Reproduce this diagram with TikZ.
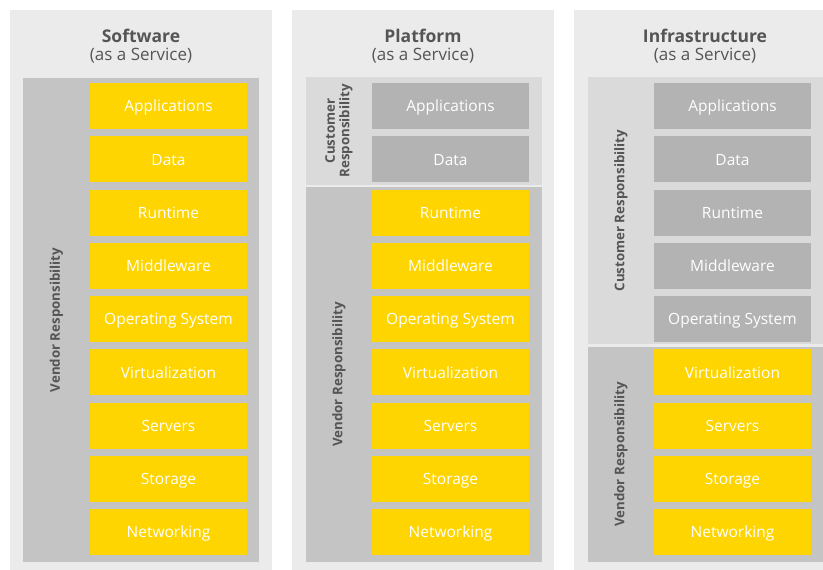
\documentclass[tikz,border=0pt]{standalone}
\usepackage{fontspec}
\setmainfont{Open Sans}
\usetikzlibrary{positioning}

\definecolor{yel}{HTML}{FFD500}
\definecolor{cust}{HTML}{B3B3B3}
\definecolor{panelbg}{HTML}{EBEBEB}
\definecolor{vendbg}{HTML}{C4C4C4}
\definecolor{custbg}{HTML}{DADADA}
\definecolor{txt}{HTML}{555555}

\begin{document}
\begin{tikzpicture}[x=1pt, y=-1pt,
    layer/.style={minimum width=157pt, minimum height=46pt, inner sep=0pt,
                  text height=11.5pt, text depth=0pt,
                  text=white, font=\fontsize{15.5}{17}\selectfont},
    title/.style={text=txt, inner sep=0pt, font=\fontsize{17.5}{19}\selectfont\bfseries},
    subtitle/.style={text=txt, inner sep=0pt, font=\fontsize{17}{19}\selectfont},
    resp/.style={text=txt, inner sep=0pt, rotate=90, align=center,
                 font=\fontsize{13.3}{14.5}\selectfont\bfseries}]

	\useasboundingbox (0,0) rectangle (823,570);
	\clip (0,0) rectangle (823,570);
	\fill[white] (0,0) rectangle (823,570);

	\def\dy{53.25};

	% the three panels
	\foreach \px/\name/\ttl in {10/saas/Software, 292/paas/Platform, 574/iaas/Infrastructure} {
		\fill[panelbg] (\px,10) rectangle (\px+262,570);
		\node[title] (\name-title) at (\px+131,35.5) {\ttl};
		\node[subtitle] (\name-sub) at (\px+131,55.5) {(as a Service)};
	}

	% who is responsible
	\fill[vendbg] (23,78) rectangle (259,562);
	\fill[custbg] (306,77) rectangle (542,185);
	\fill[vendbg] (306,187) rectangle (542,562);
	\fill[custbg] (588,77) rectangle (823,344);
	\fill[vendbg] (588,347) rectangle (823,562);

	\node[resp] (saas-vendor) at (56.5,320) {Vendor Responsibility};
	\node[resp] (paas-cust) at (339,131) {Customer\\Responsibility};
	\node[resp] (paas-vendor) at (339,374.5) {Vendor Responsibility};
	\node[resp] (iaas-cust) at (621,210.5) {Customer Responsibility};
	\node[resp] (iaas-vendor) at (621,454.5) {Vendor Responsibility};

	% the stack of layers
	\foreach \px/\name/\c in {10/saas/0, 292/paas/2, 574/iaas/5} {
		\foreach \k/\lbl/\nm in {0/Applications/app, 1/Data/data, 2/Runtime/run,
		                         3/Middleware/mid, 4/Operating System/os,
		                         5/Virtualization/virt, 6/Servers/srv,
		                         7/Storage/sto, 8/Networking/net} {
			\ifnum\k<\c \def\col{cust}\else\def\col{yel}\fi
			\node[layer, fill=\col] (\name-\nm) at (\px+158.5, 106+\k*\dy) {\lbl};
		}
	}

\end{tikzpicture}
\end{document}
